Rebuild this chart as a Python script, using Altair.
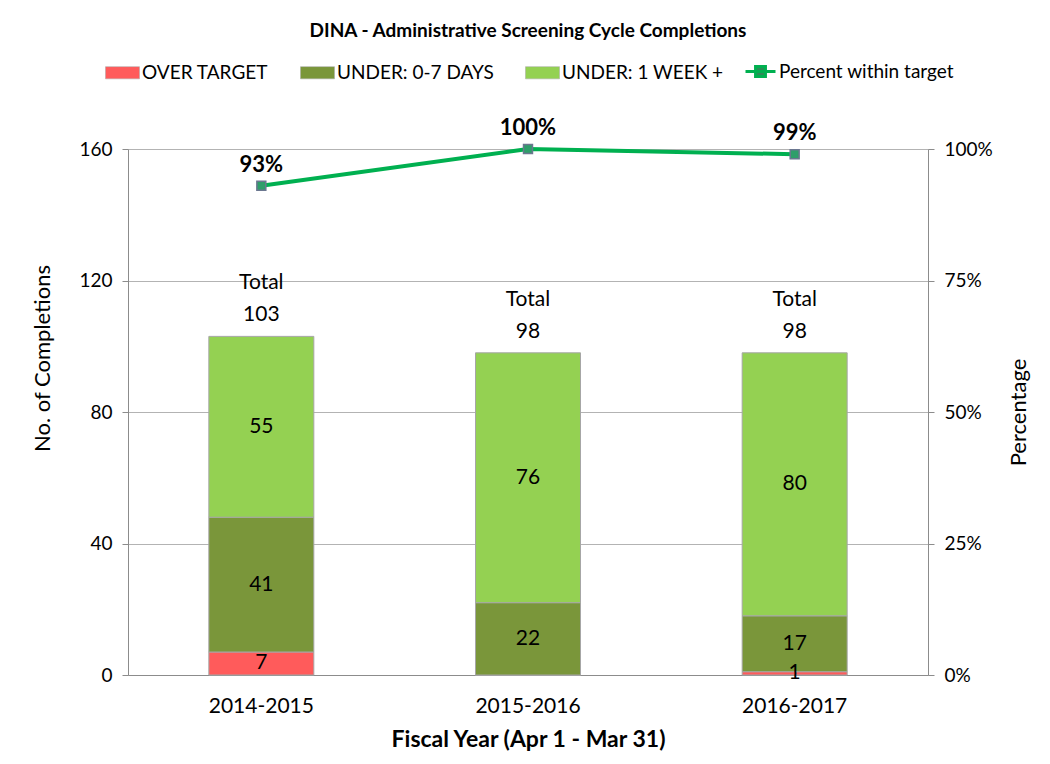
import altair as alt
import pandas as pd

years = ["2014-2015", "2015-2016", "2016-2017"]
over_target = [7, 0, 1]
under_0_7 = [41, 22, 17]
under_1wk = [55, 76, 80]
totals = [103, 98, 98]
pct_within = [0.93, 1.00, 0.99]
pct_labels = ["93%", "100%", "99%"]

series_names = ["OVER TARGET", "UNDER: 0-7 DAYS", "UNDER: 1 WEEK +"]
series_colors = ["#FF5B5B", "#7A963A", "#94D152"]
line_name = "Percent within target"
FONT = "Lato"

rows = []
for i, yr in enumerate(years):
    start = 0
    for name, vals in zip(series_names, [over_target, under_0_7, under_1wk]):
        v = vals[i]
        rows.append({"year": yr, "series": name, "value": v, "start": start,
                     "end": start + v, "mid": start + v / 2,
                     "label": str(v) if v > 0 else ""})
        start += v
seg = pd.DataFrame(rows)
tot = pd.DataFrame({"year": years, "total": totals,
                    "word": ["Total"] * 3, "num": [str(t) for t in totals]})
pc = pd.DataFrame({"year": years, "pct": pct_within, "label": pct_labels,
                   "series": [line_name] * 3})

xenc = alt.X("year:N", sort=years,
             scale=alt.Scale(paddingInner=0, paddingOuter=0),
             axis=alt.Axis(title="Fiscal Year (Apr 1 - Mar 31)", labelAngle=0,
                           labelFontSize=21, titleFontSize=23, titleFontWeight="bold",
                           labelPadding=20, titlePadding=12, ticks=False,
                           domainColor="#8c8c8c", labelColor="#000", titleColor="#000"))
xs = alt.X("year:N", sort=years)

yscale = alt.Scale(domain=[0, 160], nice=False)
bars = alt.Chart(seg).mark_bar(size=105, stroke="#a6a6a6", strokeWidth=1).encode(
    x=xenc,
    y=alt.Y("start:Q", scale=yscale,
            axis=alt.Axis(title="No. of Completions", values=[0, 40, 80, 120, 160],
                          labelFontSize=19, titleFontSize=22, titleFontWeight="normal",
                          tickSize=6, labelPadding=10, titlePadding=24, titleY=209,
                          grid=True, gridColor="#b3b3b3", domainColor="#8c8c8c",
                          tickColor="#8c8c8c", labelColor="#000", titleColor="#000")),
    y2="end:Q",
    color=alt.Color("series:N",
                    scale=alt.Scale(domain=series_names, range=series_colors),
                    legend=alt.Legend(title=None, orient="none", direction="horizontal",
                                      legendX=-23, legendY=-94, columnPadding=30,
                                      labelFontSize=19, labelColor="#000", labelLimit=300,
                                      symbolType="M-1,-0.36H1V0.36H-1Z", symbolSize=1156,
                                      symbolStrokeColor="#a6a6a6", symbolStrokeWidth=0.5,
                                      labelOffset=2, symbolOpacity=1)),
)

seg_text = alt.Chart(seg).mark_text(fontSize=21, font=FONT, color="#000").encode(
    x=xs, y=alt.Y("mid:Q", scale=yscale), text="label:N",
)

tot_num = alt.Chart(tot).mark_text(fontSize=21, font=FONT, color="#000",
                                   baseline="middle", dy=-21).encode(
    x=xs, y=alt.Y("total:Q", scale=yscale), text="num:N",
)
tot_word = alt.Chart(tot).mark_text(fontSize=21, font=FONT, color="#000",
                                    baseline="middle", dy=-53).encode(
    x=xs, y=alt.Y("total:Q", scale=yscale), text="word:N",
)

pscale = alt.Scale(domain=[0, 1], nice=False)
yright = alt.Y("pct:Q", scale=pscale,
               axis=alt.Axis(title="Percentage", orient="right", format=".0%",
                             values=[0, 0.25, 0.5, 0.75, 1.0], labelFontSize=19,
                             titleFontSize=22, titleFontWeight="normal", titleAngle=270,
                             tickSize=6, labelPadding=10, titlePadding=38, grid=False,
                             domainColor="#8c8c8c", tickColor="#8c8c8c",
                             labelColor="#000", titleColor="#000"))

line = alt.Chart(pc).mark_line(strokeWidth=4).encode(
    x=xs,
    y=yright,
    stroke=alt.Stroke("series:N", scale=alt.Scale(domain=[line_name], range=["#00B050"]),
                      legend=alt.Legend(title=None, orient="none", direction="horizontal",
                                        legendX=616, legendY=-94, labelFontSize=19,
                                        labelColor="#000", labelLimit=300,
                                        symbolType="M-1,0H1M-0.33,-0.33H0.33V0.33H-0.33Z",
                                        symbolSize=900, symbolStrokeWidth=3,
                                        symbolFillColor="#2E8B57", labelOffset=2)),
)

points = alt.Chart(pc).mark_point(shape="square", size=80, filled=True,
                                  fill="#2F9E6A", stroke="#6b7790", strokeWidth=1.5,
                                  opacity=1).encode(
    x=xs, y=yright,
)

pct_text = alt.Chart(pc).mark_text(fontSize=22, font=FONT, fontWeight="bold",
                                   color="#000", dy=-21).encode(
    x=xs, y=yright, text="label:N",
)

left = alt.layer(bars, seg_text, tot_num, tot_word)
right = alt.layer(line, points, pct_text)

chart = alt.layer(left, right).resolve_scale(y="independent", color="independent").properties(
    width=800, height=526,
    autosize=alt.AutoSizeParams(type="none"),
    padding={"left": 120, "top": 141, "right": 114, "bottom": 81},
    title=alt.Title("DINA - Administrative Screening Cycle Completions", fontSize=19,
                    fontWeight="bold", font=FONT, color="#000", anchor="middle",
                    frame="group", offset=14),
).configure_view(stroke=None).configure(font=FONT).configure_axis(
    labelFont=FONT, titleFont=FONT).configure_legend(labelFont=FONT)

chart.save("out.html", embed_options={"renderer": "svg", "actions": False})
